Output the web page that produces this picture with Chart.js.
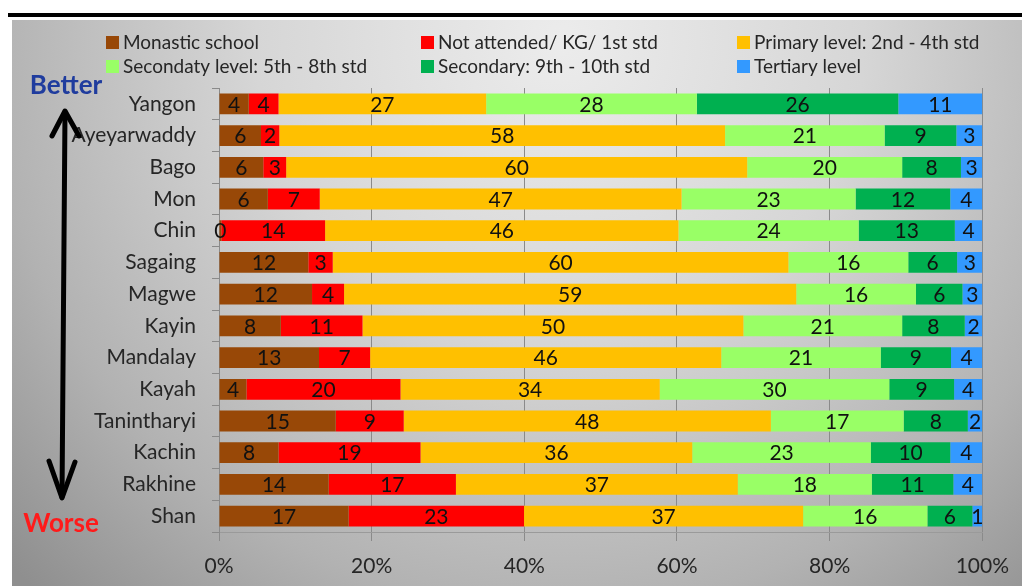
<!DOCTYPE html>
<html>
<head>
<meta charset="utf-8">
<script src="https://cdn.jsdelivr.net/npm/chart.js@4"></script>
<style>
  body { margin: 0; background: #fff; }
  #chart { display: block; }
</style>
</head>
<body>
<canvas id="chart" width="1022" height="586"></canvas>
<script>
// categories, top to bottom
const regions = ["Yangon", "Ayeyarwaddy", "Bago", "Mon", "Chin", "Sagaing", "Magwe", "Kayin",
  "Mandalay", "Kayah", "Tanintharyi", "Kachin", "Rakhine", "Shan"];

// share of each level (%)
const monastic = [3.9, 5.5, 5.8, 6.4, 0.3, 11.7, 12.2, 8.1, 13.1, 3.6, 15.3, 7.8, 14.4, 17.0];
const notAttended = [3.9, 2.4, 3.0, 6.8, 13.6, 3.2, 4.2, 10.7, 6.7, 20.2, 8.9, 18.6, 16.7, 23.0];
const primary = [27.2, 58.4, 60.4, 47.4, 46.3, 59.7, 59.3, 49.9, 46.0, 34.0, 48.1, 35.6, 37.0, 36.6];
const secondaryLow = [27.6, 20.9, 20.3, 22.8, 23.6, 15.7, 15.7, 20.8, 20.9, 30.1, 17.4, 23.4, 17.6, 16.3];
const secondaryHigh = [26.4, 9.4, 7.7, 12.4, 12.6, 6.4, 6.1, 8.2, 9.2, 8.5, 8.4, 10.4, 10.7, 5.9];
const tertiary = [11.0, 3.4, 2.8, 4.2, 3.6, 3.3, 2.6, 2.3, 4.1, 3.7, 1.9, 4.2, 3.8, 1.3];

const xTicks = [0, 20, 40, 60, 80, 100];

const seriesNames = ["Monastic school", "Not attended/ KG/ 1st std", "Primary level: 2nd - 4th std",
  "Secondaty level: 5th - 8th std", "Secondary: 9th - 10th std", "Tertiary level"];
const seriesValues = [monastic, notAttended, primary, secondaryLow, secondaryHigh, tertiary];
const colors = ["#984807", "#ff0000", "#ffc000", "#99ff66", "#00b050", "#3399ff"];

const FONT = "Lato, 'Open Sans', sans-serif";

// 100% stacked: turn each row into percentages
const rowSums = regions.map(function (r, i) {
  return seriesValues.reduce(function (s, arr) { return s + arr[i]; }, 0);
});

const datasets = seriesValues.map(function (arr, k) {
  return {
    label: seriesNames[k],
    data: arr.map(function (v, i) { return v / rowSums[i] * 100; }),
    raw: arr,
    backgroundColor: colors[k],
    borderWidth: 0,
    barPercentage: 0.8,
    categoryPercentage: 0.82
  };
});

// gray backdrop, top rule
const backdrop = {
  id: "backdrop",
  beforeDraw(chart) {
    const ctx = chart.ctx;
    ctx.save();
    ctx.fillStyle = "#fff";
    ctx.fillRect(0, 0, chart.width, chart.height);
    const g = ctx.createRadialGradient(560, 40, 0, 560, 40, 760);
    g.addColorStop(0, "#ececec");
    g.addColorStop(0.4, "#d6d6d6");
    g.addColorStop(0.75, "#b2b2b2");
    g.addColorStop(1, "#8f8f8f");
    ctx.fillStyle = g;
    ctx.fillRect(12, 20, chart.width - 12, chart.height - 20);
    ctx.fillStyle = "#000";
    ctx.fillRect(8, 13, chart.width - 8, 4);
    ctx.restore();
  }
};

// legend in three columns
const legendGrid = {
  id: "legendGrid",
  afterDraw(chart) {
    const ctx = chart.ctx;
    const cols = [106, 421, 737];
    const rows = [42, 66];
    ctx.save();
    ctx.font = "19px " + FONT;
    ctx.textBaseline = "middle";
    chart.data.datasets.forEach(function (ds, k) {
      const x = cols[k % 3];
      const y = rows[Math.floor(k / 3)];
      ctx.fillStyle = ds.backgroundColor;
      ctx.fillRect(x, y - 6, 13, 13);
      ctx.fillStyle = "#262626";
      ctx.fillText(ds.label, x + 17, y + 1);
    });
    ctx.restore();
  }
};

// numbers inside the bars
const barLabels = {
  id: "barLabels",
  afterDatasetsDraw(chart) {
    const ctx = chart.ctx;
    ctx.save();
    ctx.font = "21px " + FONT;
    ctx.fillStyle = "#111";
    ctx.textAlign = "center";
    ctx.textBaseline = "middle";
    chart.data.datasets.forEach(function (ds, k) {
      const meta = chart.getDatasetMeta(k);
      meta.data.forEach(function (bar, i) {
        const cx = (bar.x + bar.base) / 2;
        ctx.fillText(String(Math.round(ds.raw[i])), cx, bar.y + 1);
      });
    });
    ctx.restore();
  }
};

// Better / Worse with the double arrow
const betterWorse = {
  id: "betterWorse",
  afterDraw(chart) {
    const ctx = chart.ctx;
    ctx.save();
    ctx.font = "bold 26px " + FONT;
    ctx.textAlign = "center";
    ctx.textBaseline = "middle";
    ctx.fillStyle = "#1f3c9e";
    ctx.fillText("Better", 66, 86);
    ctx.fillStyle = "#ff1a1a";
    ctx.fillText("Worse", 61, 524);

    ctx.strokeStyle = "#000";
    ctx.lineWidth = 5;
    ctx.lineCap = "round";
    ctx.lineJoin = "round";
    ctx.beginPath();
    ctx.moveTo(65, 112);
    ctx.lineTo(62, 497);
    ctx.stroke();
    ctx.beginPath();
    ctx.moveTo(52, 136);
    ctx.lineTo(65, 111);
    ctx.lineTo(79, 136);
    ctx.stroke();
    ctx.beginPath();
    ctx.moveTo(49, 461);
    ctx.lineTo(62, 498);
    ctx.lineTo(75, 462);
    ctx.stroke();
    ctx.restore();
  }
};

new Chart(document.getElementById("chart"), {
  type: "bar",
  data: { labels: regions, datasets: datasets },
  plugins: [backdrop, legendGrid, barLabels, betterWorse],
  options: {
    indexAxis: "y",
    responsive: false,
    animation: false,
    layout: { padding: { top: 88, right: 39, left: 0, bottom: 0 } },
    plugins: {
      legend: { display: false },
      tooltip: { enabled: false }
    },
    scales: {
      x: {
        stacked: true,
        min: 0,
        max: 100,
        afterBuildTicks(scale) {
          scale.ticks = xTicks.map(function (v) { return { value: v }; });
        },
        afterFit(scale) { scale.height = 54; },
        ticks: {
          callback: function (v) { return v + "%"; },
          color: "#262626",
          font: { family: FONT, size: 21 },
          padding: 13,
          maxRotation: 0
        },
        grid: { color: "#8a8a8a", tickLength: 9, lineWidth: 1 },
        border: { color: "#9a9a9a" }
      },
      y: {
        stacked: true,
        afterFit(scale) { scale.width = 219; },
        ticks: {
          color: "#262626",
          font: { family: FONT, size: 21 },
          padding: 16
        },
        grid: { drawOnChartArea: false, color: "#8a8a8a", tickLength: 7 },
        border: { color: "#8a8a8a" }
      }
    }
  }
});
</script>
</body>
</html>
